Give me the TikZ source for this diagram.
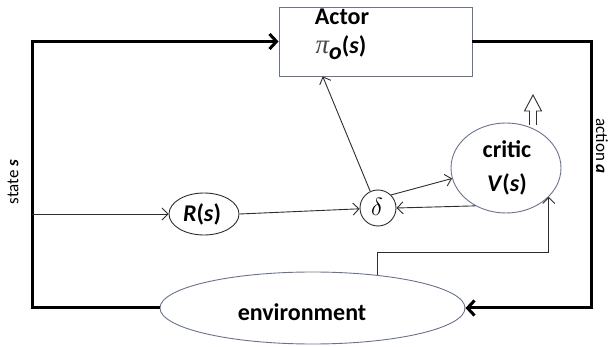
\documentclass[tikz,border=0pt]{standalone}
\usepackage{fontspec}
\setmainfont{Carlito}
\newfontfamily\serifpi{Liberation Serif}
\usetikzlibrary{arrows.meta,calc,shapes.geometric}
\definecolor{outl}{RGB}{105,115,140}
\definecolor{thinln}{RGB}{45,45,45}
\definecolor{pigray}{RGB}{70,70,80}
\tikzset{
  thick line/.style={line width=3pt,black},
  thin line/.style={line width=0.9pt,thinln},
  thin arrow/.style={thin line,-{Straight Barb[length=6pt,width=12pt,line width=0.9pt]}},
  thick arrow/.style={thick line,-{Straight Barb[length=7pt,width=15pt,line width=3pt]}},
  shapebox/.style={draw=outl,line width=0.9pt,inner sep=0pt},
  lbl/.style={font=\fontsize{24}{26}\selectfont\bfseries},
  sidelbl/.style={font=\fontsize{17}{19}\selectfont,inner sep=1pt},
}
\begin{document}
\begin{tikzpicture}[x=1pt,y=-1pt]
\useasboundingbox (0,0) rectangle (608,347);
% nodes
\node[shapebox,rectangle,minimum width=193pt,minimum height=69pt] (actor) at (375.5,41.5) {};
\node[lbl,inner sep=0pt] (actortxt) at (342,17) {Actor};
\node[lbl,inner sep=0pt] (pitxt) at (341,48) {{\serifpi\mdseries\itshape\color{pigray}\fontsize{27}{29}\selectfont π}\raisebox{-6pt}{\itshape o}(\textit{s})};
\node[shapebox,ellipse,minimum width=305pt,minimum height=72pt] (env) at (312.5,308) {};
\node[lbl] (envtxt) at (302,312) {environment};
\node[shapebox,ellipse,draw=thinln,minimum width=70pt,minimum height=42pt] (R) at (204,214) {};
\node[lbl] (Rtxt) at (202,214) {\textit{R}(\textit{s})};
\node[shapebox,circle,draw=thinln,minimum size=36pt] (delta) at (378,208) {};
\node[font=\fontsize{23}{25}\selectfont] (deltatxt) at (377,207) {$\delta$};
\node[shapebox,ellipse,minimum width=110pt,minimum height=90pt] (critic) at (506,168) {};
\node[lbl] (critictxt) at (507,149) {critic};
\node[lbl] (Vtxt) at (507,184) {\textit{V}(\textit{s})};
\node[rotate=90,sidelbl] (statetxt) at (13,182) {state \textbf{\textit{s}}};
\node[rotate=-90,sidelbl] (actiontxt) at (602,146) {action \textbf{\textit{a}}};
% coordinates
\coordinate (sTop) at (32,41.5);
\coordinate (sBot) at (32,308);
\coordinate (sR) at (32,214);
\coordinate (aTop) at (591,41.5);
\coordinate (aBot) at (591,308);
\coordinate (actIn) at ($(actor.south west)!0.228!(actor.south east)$);
% thick loop
\draw[thick arrow] (env.west) -- (sBot) -- (sTop) -- (actor.west);
\draw[thick arrow] (actor.east) -- (aTop) -- (aBot) -- (env.east);
% thin connectors
\draw[thin arrow] (sR) -- (R.west);
\draw[thin arrow] (R.east) -- (delta);
\draw[thin arrow] (delta.115) -- (actIn);
\draw[thin arrow] (delta.45) -- (critic.191);
\draw[thin arrow] (critic.231) -- (delta.east);
\draw[thin arrow] (env.27.5) -- ++(0,-23) -| (critic.-34.6);
% hollow up arrow
\draw[thinln,line width=0.9pt,fill=white] (529.5,125) -- (529.5,111) -- (524.5,111) -- (533,95) -- (541.5,111) -- (536.5,111) -- (536.5,125);
\end{tikzpicture}
\end{document}
